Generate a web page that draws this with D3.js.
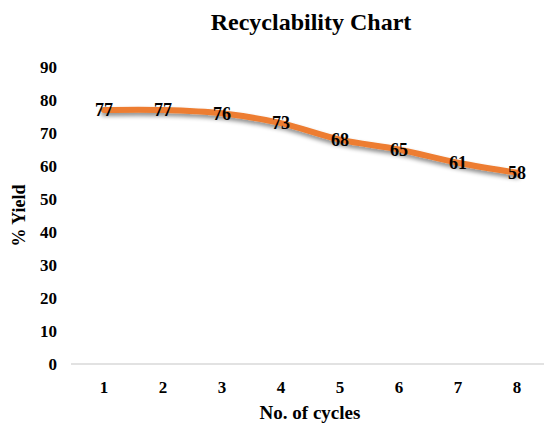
<!DOCTYPE html>
<html>
<head>
<meta charset="utf-8">
<script src="https://cdn.jsdelivr.net/npm/d3@7"></script>
<style>
  html, body { margin: 0; padding: 0; background: #fff; }
  svg { display: block; }
  text { font-family: "Liberation Serif", "Times New Roman", serif; font-weight: bold; fill: #000; }
</style>
</head>
<body>
<svg id="chart" width="544" height="425"></svg>
<script>
// Recyclability data: yield (%) per reuse cycle
const cycles = ["1", "2", "3", "4", "5", "6", "7", "8"];
const yieldValues = [77, 77, 76, 73, 68, 65, 61, 58];
const yTicks = [0, 10, 20, 30, 40, 50, 60, 70, 80, 90];

const svg = d3.select("#chart");
const W = 544, H = 425;

const x = d3.scaleBand().domain(cycles).range([74.5, 546.5]);
const y = d3.scaleLinear().domain([0, 90]).range([364, 67]);

// Soft grey shadow under the line
const defs = svg.append("defs");
const f = defs.append("filter").attr("id", "shadow")
  .attr("x", "-10%").attr("y", "-50%").attr("width", "120%").attr("height", "200%");
f.append("feDropShadow").attr("dx", 0).attr("dy", 3).attr("stdDeviation", 2.2)
  .attr("flood-color", "#000").attr("flood-opacity", 0.45);

// Title
svg.append("text").attr("x", 311).attr("y", 30).attr("text-anchor", "middle")
  .attr("font-size", 24).text("Recyclability Chart");

// Y axis tick labels (no axis line)
const yAxis = d3.axisLeft(y).tickValues(yTicks).tickSize(0).tickPadding(0);
const gy = svg.append("g").attr("transform", `translate(57,0)`).call(yAxis);
gy.select(".domain").remove();
gy.selectAll("text").attr("font-size", 17).attr("font-family", "Liberation Serif")
  .attr("font-weight", "bold").attr("fill", "#000").attr("dy", "0.35em");

// X axis labels with a light baseline
const xAxis = d3.axisBottom(x).tickSize(0).tickPadding(17);
const gx = svg.append("g").attr("transform", `translate(0,${y(0)})`).call(xAxis);
gx.select(".domain").remove();
gx.append("line").attr("x1", 71).attr("x2", W).attr("y1", 0).attr("y2", 0)
  .attr("stroke", "#d9d9d9").attr("stroke-width", 1.5);
gx.selectAll("text").attr("font-size", 17).attr("font-family", "Liberation Serif")
  .attr("font-weight", "bold").attr("fill", "#000").attr("dy", "0.71em");

// Axis titles
svg.append("text").attr("x", 310).attr("y", 419).attr("text-anchor", "middle")
  .attr("font-size", 19).text("No. of cycles");
svg.append("text").attr("transform", `translate(25,${(y(0) + y(90)) / 2}) rotate(-90)`)
  .attr("text-anchor", "middle").attr("font-size", 18).text("% Yield");

// Smoothed yield line
const pts = cycles.map((c, i) => [x(c) + x.bandwidth() / 2, y(yieldValues[i])]);
svg.append("path").datum(pts)
  .attr("d", d3.line().curve(d3.curveCatmullRom.alpha(0.5)))
  .attr("fill", "none").attr("stroke", "#ED7D31").attr("stroke-width", 6)
  .attr("stroke-linecap", "round").attr("filter", "url(#shadow)");

// Data labels centred on each point
svg.append("g").selectAll("text").data(yieldValues).join("text")
  .attr("x", (d, i) => pts[i][0])
  .attr("y", (d, i) => pts[i][1])
  .attr("dy", "0.35em").attr("text-anchor", "middle").attr("font-size", 18)
  .text(d => d);
</script>
</body>
</html>
